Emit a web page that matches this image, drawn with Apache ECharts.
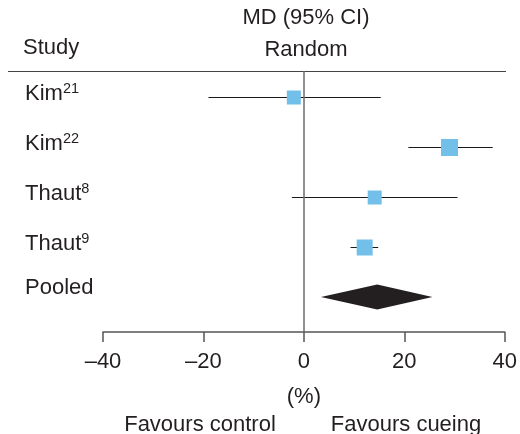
<!DOCTYPE html>
<html>
<head>
<meta charset="utf-8">
<script src="https://cdn.jsdelivr.net/npm/echarts@6/dist/echarts.min.js"></script>
<style>
  html, body { margin: 0; padding: 0; background: #fff; }
  #chart { width: 520px; height: 434px; }
</style>
</head>
<body>
<div id="chart"></div>
<script>
// studies (top to bottom)
var studyNames = ['Kim', 'Kim', 'Thaut', 'Thaut'];
var studyRefs = ['21', '22', '8', '9'];
var means = [-2.0, 29.0, 14.1, 12.1];
var lower = [-19.0, 20.8, -2.4, 9.3];
var upper = [15.3, 37.6, 30.6, 14.8];
var boxSize = [14, 17, 14, 16]; // weight of each study
// pooled estimate
var pooledMean = 14.6;
var pooledLower = 3.4;
var pooledUpper = 25.6;
var xTicks = [-40, -20, 0, 20, 40];

var font = '"Liberation Sans", Arial, sans-serif';
var textColor = '#231f20';
var fs = 22;

var studyData = means.map(function (m, i) {
    return [m, lower[i], upper[i], i + 1, boxSize[i]];
});
var labelData = studyNames.map(function (n, i) {
    return [i + 1, '{n|' + n + '}{s|' + studyRefs[i] + '}'];
});
labelData.push([5, '{n|Pooled}']);

var chart = echarts.init(document.getElementById('chart'));
var option = {
    animation: false,
    grid: { left: 103, right: 14, top: 71, bottom: 102 },
    xAxis: {
        type: 'value',
        min: xTicks[0],
        max: xTicks[xTicks.length - 1],
        interval: 20,
        splitLine: { show: false },
        axisLine: { show: true, lineStyle: { color: '#555', width: 1.5 } },
        axisTick: { show: true, length: 10, lineStyle: { color: '#555', width: 1.5 } },
        axisLabel: {
            margin: 19, fontSize: fs, color: textColor, fontFamily: font,
            formatter: function (v) { return String(v).replace('-', '\u2013'); }
        },
        name: '(%)',
        nameLocation: 'middle',
        nameGap: 54,
        nameTextStyle: { fontSize: fs, color: textColor, fontFamily: font }
    },
    yAxis: {
        type: 'value',
        inverse: true,
        min: 0.48,
        max: 5.7,
        show: false
    },
    graphic: [
        { type: 'line', shape: { x1: 8, y1: 71.5, x2: 506, y2: 71.5 }, style: { stroke: '#444', lineWidth: 1 } },
        { type: 'text', x: 23, y: 48, style: { text: 'Study', fontSize: fs, fill: textColor, fontFamily: font, verticalAlign: 'middle' } },
        { type: 'text', x: 306, y: 18, style: { text: 'MD (95% CI)', fontSize: fs, fill: textColor, fontFamily: font, align: 'center', verticalAlign: 'middle' } },
        { type: 'text', x: 306, y: 50, style: { text: 'Random', fontSize: fs, fill: textColor, fontFamily: font, align: 'center', verticalAlign: 'middle' } },
        { type: 'text', x: 200, y: 425, style: { text: 'Favours control', fontSize: fs, fill: textColor, fontFamily: font, align: 'center', verticalAlign: 'middle' } },
        { type: 'text', x: 406, y: 425, style: { text: 'Favours cueing', fontSize: fs, fill: textColor, fontFamily: font, align: 'center', verticalAlign: 'middle' } }
    ],
    series: [
        {
            // zero line
            type: 'line',
            data: [],
            markLine: {
                symbol: 'none',
                silent: true,
                label: { show: false },
                lineStyle: { color: '#6d6d6d', width: 1.5, type: 'solid' },
                data: [{ xAxis: 0 }]
            }
        },
        {
            type: 'custom',
            data: studyData,
            renderItem: function (params, api) {
                var c = api.coord([api.value(0), api.value(3)]);
                var l = api.coord([api.value(1), api.value(3)]);
                var r = api.coord([api.value(2), api.value(3)]);
                var s = api.value(4);
                var y = Math.round(c[1]) + 0.5;
                return {
                    type: 'group',
                    children: [
                        { type: 'line', shape: { x1: l[0], y1: y, x2: r[0], y2: y }, style: { stroke: '#1a1a1a', lineWidth: 1 } },
                        { type: 'rect', shape: { x: c[0] - s / 2, y: y - s / 2, width: s, height: s }, style: { fill: '#72bfea' } }
                    ]
                };
            }
        },
        {
            type: 'custom',
            data: [[pooledMean, pooledLower, pooledUpper, 5]],
            renderItem: function (params, api) {
                var c = api.coord([api.value(0), api.value(3)]);
                var l = api.coord([api.value(1), api.value(3)]);
                var r = api.coord([api.value(2), api.value(3)]);
                var h = 12.5;
                return {
                    type: 'polygon',
                    shape: { points: [[l[0], l[1]], [c[0], c[1] - h], [r[0], r[1]], [c[0], c[1] + h]] },
                    style: { fill: '#231f20' }
                };
            }
        },
        {
            // study labels on the left
            type: 'custom',
            data: labelData,
            renderItem: function (params, api) {
                var p = api.coord([0, api.value(0)]);
                return {
                    type: 'text',
                    x: 25,
                    y: p[1] - (api.value(0) === 5 ? 9 : 3),
                    style: {
                        text: labelData[params.dataIndex][1],
                        verticalAlign: 'middle',
                        rich: {
                            n: { fontSize: fs, fill: textColor, color: textColor, fontFamily: font },
                            s: { fontSize: 14.5, fill: textColor, color: textColor, fontFamily: font, padding: [0, 0, 11, 0] }
                        }
                    }
                };
            }
        }
    ]
};
chart.setOption(option);
</script>
</body>
</html>
